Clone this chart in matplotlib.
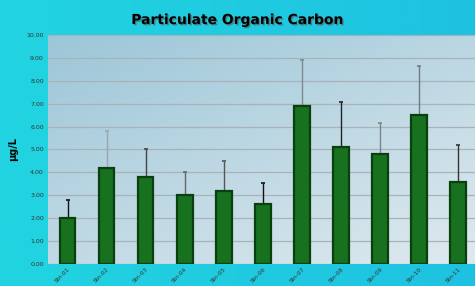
import matplotlib
matplotlib.use("Agg")
import matplotlib.pyplot as plt
import matplotlib.patheffects as pe
import numpy as np

# data
stations = ["Stn-01", "Stn-02", "Stn-03", "Stn-04", "Stn-05", "Stn-06",
            "Stn-07", "Stn-08", "Stn-09", "Stn-10", "Stn-11"]
poc_mean = [2.0, 4.2, 3.8, 3.0, 3.2, 2.6, 6.9, 5.1, 4.8, 6.5, 3.6]
poc_err = [0.8, 1.6, 1.2, 1.0, 1.3, 0.95, 2.0, 1.95, 1.35, 2.15, 1.6]
err_colors = ["#111111", "#9aa6ab", "#444444", "#666666", "#555555", "#111111",
              "#7d8a90", "#222222", "#7a858a", "#707c82", "#333333"]
y_ticks = [0, 1, 2, 3, 4, 5, 6, 7, 8, 9, 10]

fig = plt.figure(figsize=(4.75, 2.86), dpi=100)

# figure background gradient
bg = fig.add_axes([0, 0, 1, 1], zorder=-5)
gx = np.linspace(0, 1, 256).reshape(1, -1)
bg.imshow(gx, cmap=matplotlib.colors.LinearSegmentedColormap.from_list(
    "bgc", ["#22d4e0", "#1ec2e0"]), aspect="auto", extent=[0, 1, 0, 1])
bg.axis("off")

ax = fig.add_axes([0.101, 0.077, 0.905, 0.801])

# axes background gradient (top-left bluish to bottom-right pale)
xx, yy = np.meshgrid(np.linspace(0, 1, 200), np.linspace(0, 1, 200))
g = (xx * 0.45 + yy * 0.55)
ax.imshow(g, cmap=matplotlib.colors.LinearSegmentedColormap.from_list(
    "axc", ["#9cc6d8", "#dfeaef"]), aspect="auto",
    extent=[0, 1, 0, 1], transform=ax.transAxes, zorder=0, origin="upper")

x = np.arange(len(stations))
ax.bar(x, poc_mean, width=0.4, color="#17711f", edgecolor="#0a3f0e",
       linewidth=1.6, zorder=3)

for xi, m, e, c in zip(x, poc_mean, poc_err, err_colors):
    ax.errorbar(xi, m, yerr=[[0], [e]], fmt="none", ecolor=c,
                elinewidth=1.0, capsize=1.5, capthick=1.2, zorder=2)

ax.set_xlim(-0.5, len(stations) - 0.5)
ax.set_ylim(0, 10)
ax.set_yticks(y_ticks)
ax.set_yticklabels(["%.2f" % v for v in y_ticks], fontsize=4.5, color="#333333")
ax.set_xticks(x)
ax.set_xticklabels(stations, rotation=45, ha="right", fontsize=4.2,
                   color="#333333", rotation_mode="anchor")
ax.tick_params(axis="x", length=0, pad=2)
ax.tick_params(axis="y", length=0, pad=3)
ax.grid(axis="y", color="#a7b3b8", linewidth=0.9, zorder=1)
ax.set_axisbelow(True)
for s in ax.spines.values():
    s.set_visible(False)

ax.set_ylabel("µg/L", fontsize=7, fontweight="bold", labelpad=6)

fig.text(0.5, 0.93, "Particulate Organic Carbon", ha="center", va="center",
         fontsize=10, fontweight="bold", color="black",
         path_effects=[pe.withSimplePatchShadow(offset=(1, -1),
                                                shadow_rgbFace="#555555",
                                                alpha=0.6)])

fig.savefig("out.png", dpi=100)
